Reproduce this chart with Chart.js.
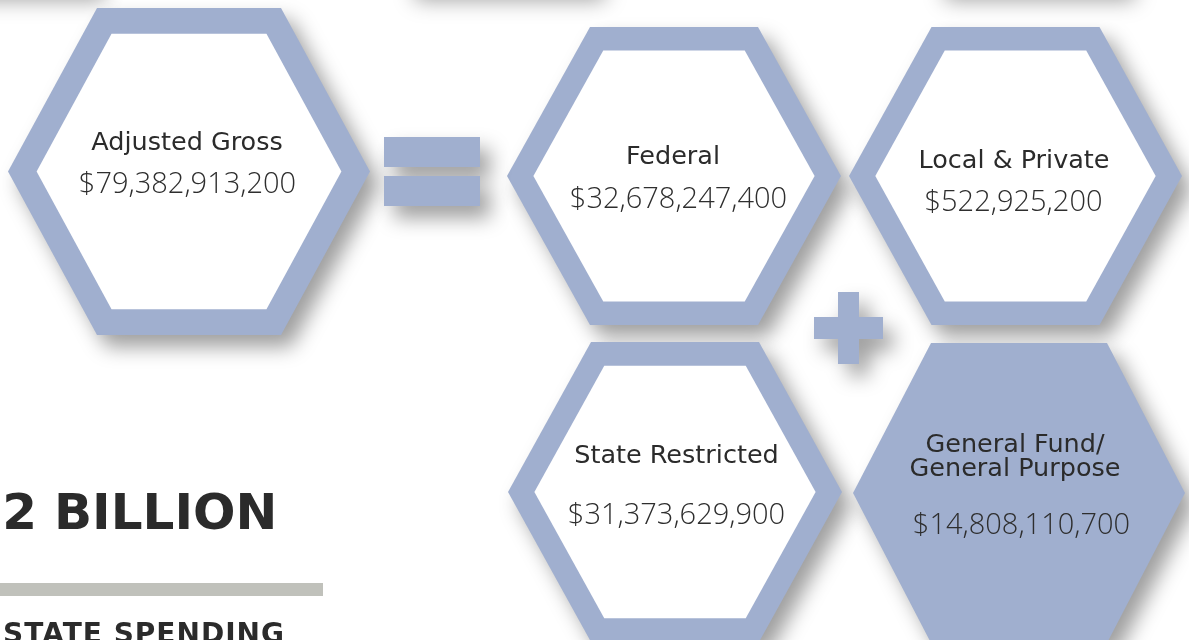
<!DOCTYPE html>
<html>
<head>
<meta charset="utf-8">
<script src="https://cdn.jsdelivr.net/npm/chart.js@4.4.1/dist/chart.umd.min.js"></script>
<style>
  html, body { margin: 0; padding: 0; background: #ffffff; overflow: hidden; }
  #wrap { width: 1189px; height: 640px; position: relative; }
</style>
</head>
<body>
<div id="wrap"><canvas id="fundChart"></canvas></div>
<script>
// Funding sources and amounts
const categories = ['Adjusted Gross', 'Federal', 'Local & Private', 'State Restricted', 'General Fund/\nGeneral Purpose'];
const amounts = [79382913200, 32678247400, 522925200, 31373629900, 14808110700];
const headline = ['.2', 'BILLION'];
const subhead = 'STATE SPENDING';

// Where each hexagon sits, in page pixels (a = half width, b = half height, t = half of top edge)
const hexLayout = [
    { x: 189,    y: 171.5, a: 181,   b: 163.5, t: 92, solid: false, lx: -2,   ly: [-21.5], vx: -1.5, vy: 21.5 },
    { x: 674,    y: 176,   a: 167,   b: 149,   t: 84, solid: false, lx: -1,   ly: [-12],   vx: 4.5,  vy: 32 },
    { x: 1015.5, y: 176,   a: 166.5, b: 149,   t: 84, solid: false, lx: -1.5, ly: [-8],    vx: -2,   vy: 35 },
    { x: 675,    y: 492,   a: 167,   b: 150,   t: 84, solid: false, lx: 1.5,  ly: [-29],   vx: 1.5,  vy: 32 },
    { x: 1019,   y: 493,   a: 166,   b: 150,   t: 88, solid: true,  lx: -4,   ly: [-41, -17], vx: 2.5, vy: 41 }
];

const HEX_BLUE = '#a0afcf';
const TEXT_DARK = '#2b2b2b';

const fmtMoney = v => '$' + v.toLocaleString('en-US');

function hexPath(ctx, cx, cy, a, b, t) {
    ctx.beginPath();
    ctx.moveTo(cx - t, cy - b);
    ctx.lineTo(cx + t, cy - b);
    ctx.lineTo(cx + a, cy);
    ctx.lineTo(cx + t, cy + b);
    ctx.lineTo(cx - t, cy + b);
    ctx.lineTo(cx - a, cy);
    ctx.closePath();
}

function withShadow(ctx, fn) {
    ctx.save();
    ctx.shadowColor = 'rgba(0,0,0,0.38)';
    ctx.shadowBlur = 20;
    ctx.shadowOffsetX = 10;
    ctx.shadowOffsetY = 12;
    fn();
    ctx.restore();
}

const infographic = {
    id: 'infographic',
    afterDatasetsDraw(chart) {
        const { ctx, scales: { x, y } } = chart;
        const px = v => x.getPixelForValue(v);
        const py = v => y.getPixelForValue(v);
        const sx = d => px(d) - px(0);
        const sy = d => py(d) - py(0);
        const meta = chart.getDatasetMeta(0);

        ctx.save();

        // faint shadows of shapes sitting just above the frame
        [[-120, 95], [405, 595], [935, 1125]].forEach(([x0, x1]) => {
            withShadow(ctx, () => {
                ctx.fillStyle = '#ffffff';
                ctx.fillRect(px(x0), py(-84), sx(x1 - x0), sy(72));
            });
        });

        // hexagons
        meta.data.forEach((pt, i) => {
            const h = hexLayout[i];
            const a = sx(h.a), b = sy(h.b), t = sx(h.t);
            withShadow(ctx, () => {
                ctx.fillStyle = HEX_BLUE;
                hexPath(ctx, pt.x, pt.y, a, b, t);
                ctx.fill();
            });
            if (!h.solid) {
                const k = 0.842;
                ctx.fillStyle = '#ffffff';
                hexPath(ctx, pt.x, pt.y, a * k, b * k, t * k);
                ctx.fill();
            }
        });

        // equals sign
        withShadow(ctx, () => {
            ctx.fillStyle = HEX_BLUE;
            ctx.beginPath();
            ctx.rect(px(384), py(137), sx(96), sy(30));
            ctx.rect(px(384), py(176), sx(96), sy(30));
            ctx.fill();
        });

        // plus sign, one outline so the shadow does not fall on itself
        withShadow(ctx, () => {
            ctx.fillStyle = HEX_BLUE;
            const v0 = px(838), v1 = px(859), h0 = px(814), h1 = px(883);
            const t0 = py(292), t1 = py(317), t2 = py(339), t3 = py(364);
            ctx.beginPath();
            ctx.moveTo(v0, t0); ctx.lineTo(v1, t0); ctx.lineTo(v1, t1); ctx.lineTo(h1, t1);
            ctx.lineTo(h1, t2); ctx.lineTo(v1, t2); ctx.lineTo(v1, t3); ctx.lineTo(v0, t3);
            ctx.lineTo(v0, t2); ctx.lineTo(h0, t2); ctx.lineTo(h0, t1); ctx.lineTo(v0, t1);
            ctx.closePath();
            ctx.fill();
        });

        // labels and amounts
        ctx.textAlign = 'center';
        ctx.textBaseline = 'alphabetic';
        meta.data.forEach((pt, i) => {
            const h = hexLayout[i];
            const lines = categories[i].split('\n');
            ctx.fillStyle = TEXT_DARK;
            ctx.font = '500 25.5px "DejaVu Sans"';
            lines.forEach((ln, j) => ctx.fillText(ln, pt.x + sx(h.lx), pt.y + sy(h.ly[j])));
            ctx.fillStyle = '#2e2e2e';
            ctx.font = '300 29px "Open Sans"';
            ctx.fillText(fmtMoney(amounts[i]), pt.x + sx(h.vx), pt.y + sy(h.vy));
        });

        // headline on the left, clipped by the frame
        ctx.fillStyle = TEXT_DARK;
        ctx.font = 'bold 50px "DejaVu Sans"';
        ctx.textAlign = 'right';
        ctx.fillText(headline[0], px(37), py(529));
        ctx.textAlign = 'left';
        ctx.fillText(headline[1], px(54), py(529));

        // grey rule
        ctx.fillStyle = '#c0c1bb';
        ctx.fillRect(px(0), py(583), sx(323), sy(13));

        // sub heading
        ctx.fillStyle = TEXT_DARK;
        ctx.font = 'bold 28px "DejaVu Sans"';
        ctx.letterSpacing = '1px';
        ctx.textAlign = 'right';
        ctx.fillText(subhead, px(285), py(643));

        ctx.restore();
    }
};

const ctx = document.getElementById('fundChart').getContext('2d');
new Chart(ctx, {
    type: 'scatter',
    data: {
        labels: categories,
        datasets: [{
            data: hexLayout.map(h => ({ x: h.x, y: h.y })),
            pointRadius: 0,
            pointHoverRadius: 0
        }]
    },
    options: {
        responsive: true,
        maintainAspectRatio: false,
        animation: false,
        layout: { padding: 0 },
        plugins: { legend: { display: false }, tooltip: { enabled: false } },
        events: [],
        scales: {
            x: { type: 'linear', min: 0, max: 1189, display: false },
            y: { type: 'linear', min: 0, max: 640, reverse: true, display: false }
        }
    },
    plugins: [infographic]
});
</script>
</body>
</html>
